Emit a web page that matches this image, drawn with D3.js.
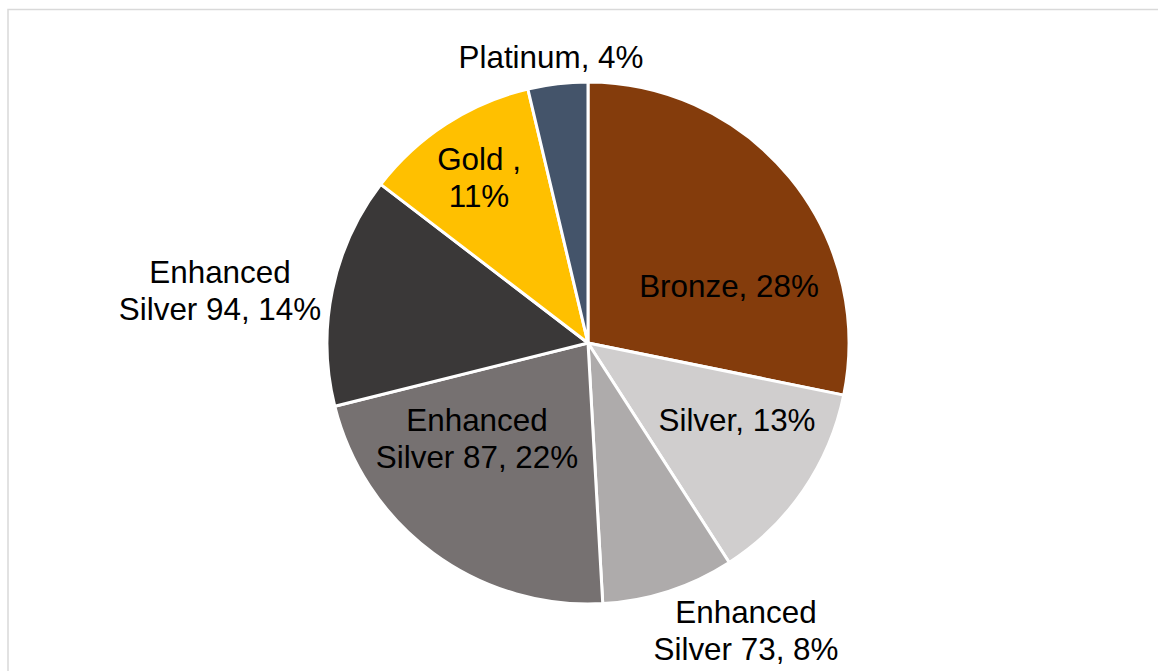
<!DOCTYPE html>
<html>
<head>
<meta charset="utf-8">
<script src="https://cdn.jsdelivr.net/npm/d3@7"></script>
<style>
  html, body { margin: 0; padding: 0; background: #fff; }
  svg { display: block; }
</style>
</head>
<body>
<svg id="chart" width="1158" height="671"></svg>
<script>
const categories = ["Bronze", "Silver", "Enhanced Silver 73", "Enhanced Silver 87", "Enhanced Silver 94", "Gold ", "Platinum"];
const values = [28.2, 12.7, 8.2, 22.0, 14.3, 10.9, 3.7];
const labelLines = [
  ["Bronze, 28%"],
  ["Silver, 13%"],
  ["Enhanced", "Silver 73, 8%"],
  ["Enhanced", "Silver 87, 22%"],
  ["Enhanced", "Silver 94, 14%"],
  ["Gold ,", "11%"],
  ["Platinum, 4%"]
];
const colors = ["#843C0C", "#D0CECE", "#AEABAB", "#767171", "#3A3838", "#FFC000", "#44546A"];
// label placement (offset of first-line baseline from pie centre)
const labelOffsets = [[141, -46], [149, 88], [158, 280], [-111, 88], [-368, -60], [-109, -173], [-37, -275]];

const svg = d3.select("#chart");
const cx = 588, cy = 343, radius = 261;
const fontSize = 31.4, lineH = 37;

// chart border
svg.append("rect")
  .attr("x", 8).attr("y", 9.5)
  .attr("width", 1300).attr("height", 800)
  .attr("fill", "none")
  .attr("stroke", "#D9D9D9")
  .attr("stroke-width", 1.5);

const data = categories.map((c, i) => ({ cat: c, value: values[i], color: colors[i], lines: labelLines[i], off: labelOffsets[i] }));

const pie = d3.pie().value(d => d.value).sort(null);
const arc = d3.arc().innerRadius(0).outerRadius(radius);

const g = svg.append("g").attr("transform", `translate(${cx},${cy})`);

g.selectAll("path.slice")
  .data(pie(data))
  .join("path")
  .attr("class", "slice")
  .attr("d", arc)
  .attr("fill", d => d.data.color)
  .attr("stroke", "#FFFFFF")
  .attr("stroke-width", 3)
  .attr("stroke-linejoin", "round");

const labels = g.selectAll("text.lbl")
  .data(pie(data))
  .join("text")
  .attr("class", "lbl")
  .attr("text-anchor", "middle")
  .attr("font-family", "'Liberation Sans', Arial, sans-serif")
  .attr("font-size", fontSize)
  .attr("fill", "#000");

labels.each(function(d) {
  const t = d3.select(this);
  d.data.lines.forEach((ln, i) => {
    t.append("tspan")
      .attr("x", d.data.off[0])
      .attr("y", d.data.off[1] + i * lineH)
      .text(ln);
  });
});
</script>
</body>
</html>
